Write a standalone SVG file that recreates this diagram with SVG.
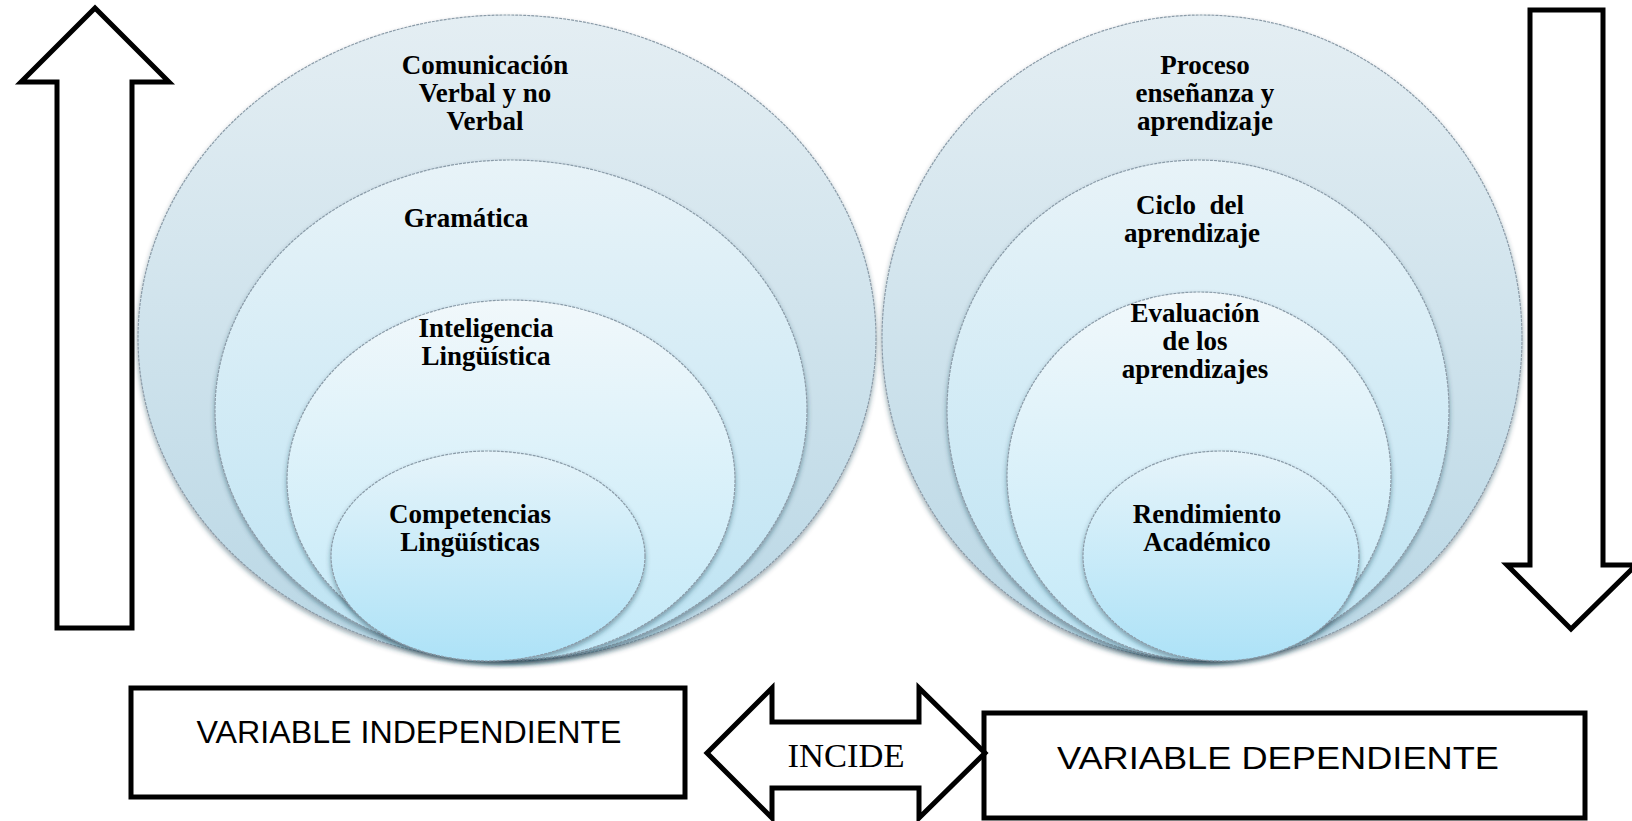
<svg xmlns="http://www.w3.org/2000/svg" width="1632" height="821" viewBox="0 0 1632 821">
<style>
.c{stroke:#8a9ba8;stroke-width:1.2;stroke-dasharray:3 1}
.t{font-family:"Liberation Serif","Times New Roman",serif;font-weight:bold;font-size:27px;fill:#000;text-anchor:middle}
.blk{fill:#fff;stroke:#000;stroke-width:5;stroke-linejoin:miter}
.v{font-family:"Liberation Sans",Arial,sans-serif;font-size:31px;fill:#000;text-anchor:middle}
.inc{font-family:"Liberation Serif","Times New Roman",serif;font-size:34px;fill:#000;text-anchor:middle}
</style>
<defs>
<linearGradient id="g1" x1="0" y1="0" x2="0" y2="1"><stop offset="0" stop-color="#e4eef3"/><stop offset="1" stop-color="#b9d7e5"/></linearGradient>
<linearGradient id="g2" x1="0" y1="0" x2="0" y2="1"><stop offset="0" stop-color="#e8f3f8"/><stop offset="1" stop-color="#bce3f3"/></linearGradient>
<linearGradient id="g3" x1="0" y1="0" x2="0" y2="1"><stop offset="0" stop-color="#f1f8fb"/><stop offset="1" stop-color="#c2e9f8"/></linearGradient>
<linearGradient id="g4" x1="0" y1="0" x2="0" y2="1"><stop offset="0" stop-color="#e6f4fa"/><stop offset="1" stop-color="#ade2f7"/></linearGradient>
<filter id="sh" x="-10%" y="-10%" width="120%" height="125%"><feDropShadow dx="0" dy="3" stdDeviation="2.5" flood-color="#1d3a4a" flood-opacity="0.45"/></filter>
</defs>

<g id="left-group">
<ellipse class="c" cx="507" cy="338" rx="369" ry="323" fill="url(#g1)" filter="url(#sh)"/>
<ellipse class="c" cx="511" cy="410" rx="296" ry="250" fill="url(#g2)" filter="url(#sh)"/>
<ellipse class="c" cx="511" cy="480" rx="224" ry="180" fill="url(#g3)" filter="url(#sh)"/>
<ellipse class="c" cx="488" cy="556" rx="157" ry="105" fill="url(#g4)" filter="url(#sh)"/>
</g>
<g id="right-group">
<ellipse class="c" cx="1202" cy="338" rx="320" ry="323" fill="url(#g1)" filter="url(#sh)"/>
<ellipse class="c" cx="1198" cy="410" rx="251" ry="250" fill="url(#g2)" filter="url(#sh)"/>
<ellipse class="c" cx="1199" cy="476" rx="192" ry="184" fill="url(#g3)" filter="url(#sh)"/>
<ellipse class="c" cx="1221" cy="556" rx="138" ry="105" fill="url(#g4)" filter="url(#sh)"/>
</g>

<g id="n-comunicacion"><text class="t" x="485" y="74">Comunicación</text><text class="t" x="485" y="102">Verbal y no</text><text class="t" x="485" y="130">Verbal</text></g>
<g id="n-gramatica"><text class="t" x="466" y="227">Gramática</text></g>
<g id="n-inteligencia"><text class="t" x="486" y="337">Inteligencia</text><text class="t" x="486" y="365">Lingüística</text></g>
<g id="n-competencias"><text class="t" x="470" y="523">Competencias</text><text class="t" x="470" y="551">Lingüísticas</text></g>

<g id="n-proceso"><text class="t" x="1205" y="74">Proceso</text><text class="t" x="1205" y="102">enseñanza y</text><text class="t" x="1205" y="130">aprendizaje</text></g>
<g id="n-ciclo"><text class="t" x="1190" y="214" xml:space="preserve">Ciclo  del</text><text class="t" x="1192" y="242">aprendizaje</text></g>
<g id="n-evaluacion"><text class="t" x="1195" y="322">Evaluación</text><text class="t" x="1195" y="350">de los</text><text class="t" x="1195" y="378">aprendizajes</text></g>
<g id="n-rendimiento"><text class="t" x="1207" y="523">Rendimiento</text><text class="t" x="1207" y="551">Académico</text></g>

<g id="arrow-up"><polygon class="blk" points="95,8 169,82 132,82 132,628 57,628 57,82 21,82"/></g>
<g id="arrow-down"><polygon class="blk" points="1530,10 1603,10 1603,565 1636,565 1571,629 1507,565 1530,565"/></g>

<g id="box-independiente"><rect class="blk" x="131" y="688" width="554" height="109"/><text class="v" x="409" y="743" textLength="425" lengthAdjust="spacingAndGlyphs">VARIABLE INDEPENDIENTE</text></g>
<g id="box-dependiente"><rect class="blk" x="984" y="713" width="601" height="105"/><text class="v" x="1278" y="769" textLength="442" lengthAdjust="spacingAndGlyphs">VARIABLE DEPENDIENTE</text></g>

<g id="connectors">
<polygon class="blk" points="707,753 772,688 772,722 919,722 919,688 985,753 919,818 919,788 772,788 772,818"/>
<text class="inc" x="846" y="767" textLength="117" lengthAdjust="spacingAndGlyphs">INCIDE</text>
</g>
</svg>
